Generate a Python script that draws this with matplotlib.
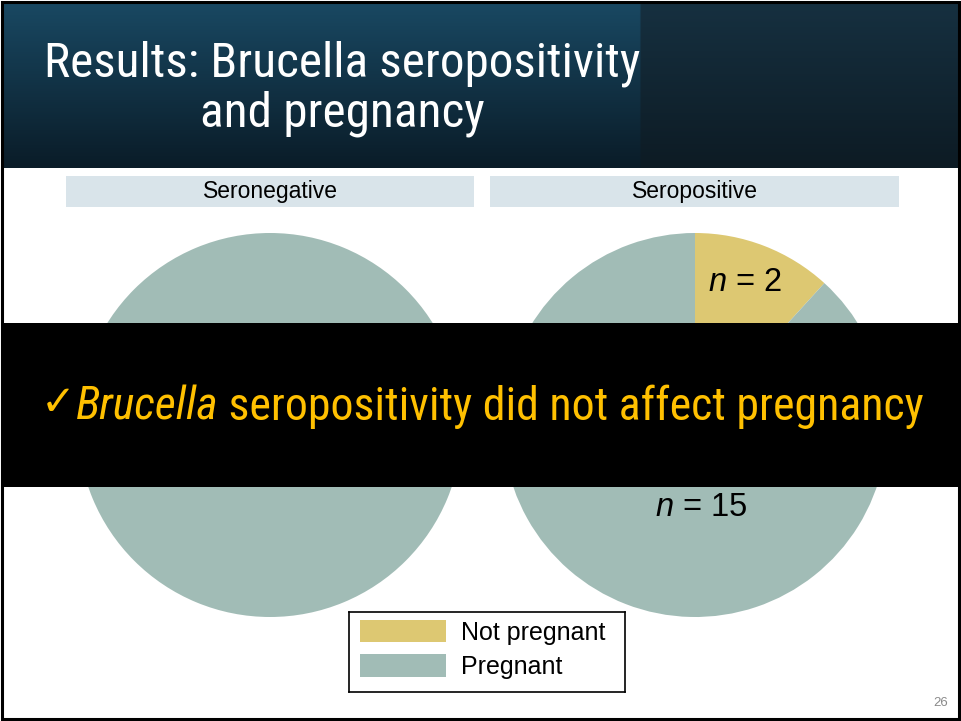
#!/usr/bin/env python3
"""Slide: Brucella seropositivity and pregnancy (two pies + overlay banner)."""

import matplotlib
matplotlib.use('Agg')
import matplotlib.pyplot as plt
from matplotlib.patches import Rectangle
import numpy as np

W, H = 961, 721

# Data
GROUPS = ['Seronegative', 'Seropositive']
OUTCOMES = ['Not pregnant', 'Pregnant']
COUNTS = {
    'Seronegative': [0, 30],   # pregnant count hidden behind the banner
    'Seropositive': [2, 15],
}
COLORS = ['#DDC872', '#A1BCB6']

TITLE_LINES = ['Results: Brucella seropositivity', 'and pregnancy']
NARROW = ['Liberation Sans Narrow', 'Roboto Condensed', 'DejaVu Sans']
SANS = ['Liberation Sans', 'Arial', 'DejaVu Sans']

plt.rcParams['mathtext.fontset'] = 'custom'
plt.rcParams['mathtext.it'] = 'Liberation Sans:italic'
plt.rcParams['mathtext.rm'] = 'Liberation Sans'


def px_axes(fig, x0, y0, x1, y1):
    """Axes from pixel box (top-left origin)."""
    return fig.add_axes([x0 / W, 1 - y1 / H, (x1 - x0) / W, (y1 - y0) / H])


fig = plt.figure(figsize=(W / 100, H / 100), dpi=100)
fig.patch.set_facecolor('white')

# Title banner with a gradient
ban = px_axes(fig, 3, 3, 958, 168)
ban.axis('off')
ny, nx = 100, 400
t = np.linspace(0, 1, ny)[:, None]
img = np.zeros((ny, nx, 3))
left_top = np.array([0x19, 0x48, 0x62]) / 255
left_bot = np.array([0x0a, 0x1c, 0x28]) / 255
right_top = np.array([0x16, 0x30, 0x40]) / 255
right_bot = np.array([0x0d, 0x1b, 0x24]) / 255
split = int(nx * (642 - 3) / 955)
img[:, :split] = (left_top * (1 - t) + left_bot * t)[:, None, :]
img[:, split:] = (right_top * (1 - t) + right_bot * t)[:, None, :]
ban.imshow(img, aspect='auto', extent=[0, 1, 0, 1])
ban.set_xlim(0, 1)
ban.set_ylim(0, 1)

fig.text(342 / W, 1 - 64 / H, TITLE_LINES[0], color='white', fontsize=35.5,
         ha='center', va='center', family=NARROW)
fig.text(342 / W, 1 - 114 / H, TITLE_LINES[1], color='white', fontsize=35.5,
         ha='center', va='center', family=NARROW)

# Facet strips and pies
strip_x = [(66, 474), (490, 899)]
centers = [270, 695]
R = 192
cy = 425
for grp, (sx0, sx1), cx in zip(GROUPS, strip_x, centers):
    sax = px_axes(fig, sx0, 176, sx1, 207)
    sax.set_facecolor('#D9E4EA')
    sax.set_xticks([])
    sax.set_yticks([])
    for s in sax.spines.values():
        s.set_visible(False)
    sax.text(0.5, 0.5, grp, ha='center', va='center', fontsize=16.5,
             family=SANS, color='black')

    pax = px_axes(fig, cx - R, cy - R, cx + R, cy + R)
    vals = COUNTS[grp]
    pax.pie(vals, colors=COLORS, startangle=90, counterclock=False,
            radius=1, wedgeprops=dict(linewidth=0))
    pax.set_xlim(-1, 1)
    pax.set_ylim(-1, 1)
    pax.set_aspect('auto')
    pax.axis('off')

    if grp == 'Seropositive':
        n_np, n_p = vals
        pax.text(0.26, 0.74, f'$n$ = {n_np}', ha='center', va='center',
                 fontsize=23.5, family=SANS)
        pax.text(0.03, -0.43, f'$n$ = {n_p}', ha='center', va='center',
                 fontsize=23.5, family=SANS)

# Legend
lax = px_axes(fig, 349, 612, 625, 692)
lax.set_xlim(0, 1)
lax.set_ylim(0, 1)
lax.set_xticks([])
lax.set_yticks([])
for s in lax.spines.values():
    s.set_linewidth(1.2)
    s.set_color('black')
patch_y = [(620, 642), (654, 677)]
for lab, col, (py0, py1) in zip(OUTCOMES, COLORS, patch_y):
    y0 = (692 - py1) / 80
    hh = (py1 - py0) / 80
    lax.add_patch(Rectangle((11 / 276, y0), 86 / 276, hh, color=col, lw=0))
    lax.text(112 / 276, y0 + hh / 2 - 0.02, lab, ha='left', va='center',
             fontsize=18, family=SANS)

# Black overlay band with the take-home message
band = px_axes(fig, 3, 323, 958, 487)
band.set_facecolor('black')
band.set_xticks([])
band.set_yticks([])
for s in band.spines.values():
    s.set_visible(False)
band.set_xlim(0, 1)
band.set_ylim(0, 1)
yel = '#FFC000'
x = 38 / 955
tx = band.text(x, 0.51, '\u2713', color=yel, fontsize=30, va='center',
               ha='left', family=['DejaVu Sans'])
fig.canvas.draw()
r = fig.canvas.get_renderer()
bb = tx.get_window_extent(r)
inv = band.transAxes.inverted()
x = inv.transform((bb.x1, 0))[0]
t2 = band.text(x, 0.49, 'Brucella', color=yel, fontsize=33, va='center',
               ha='left', style='italic', family=NARROW)
bb = t2.get_window_extent(r)
x = inv.transform((bb.x1, 0))[0]
band.text(x, 0.49, ' seropositivity did not affect pregnancy', color=yel,
          fontsize=33, va='center', ha='left', family=NARROW)

# Page number
fig.text(941 / W, 1 - 703 / H, '26', color='#8a8a8a', fontsize=9.5,
         ha='center', va='center', family=SANS)

# Slide frame
frame = fig.add_axes([0, 0, 1, 1], facecolor='none')
frame.set_xlim(0, W)
frame.set_ylim(H, 0)
frame.axis('off')
frame.add_patch(Rectangle((1.5, 1.5), W - 4, H - 4, fill=False,
                          edgecolor='black', lw=2.2))

fig.savefig('out.png', dpi=100)
